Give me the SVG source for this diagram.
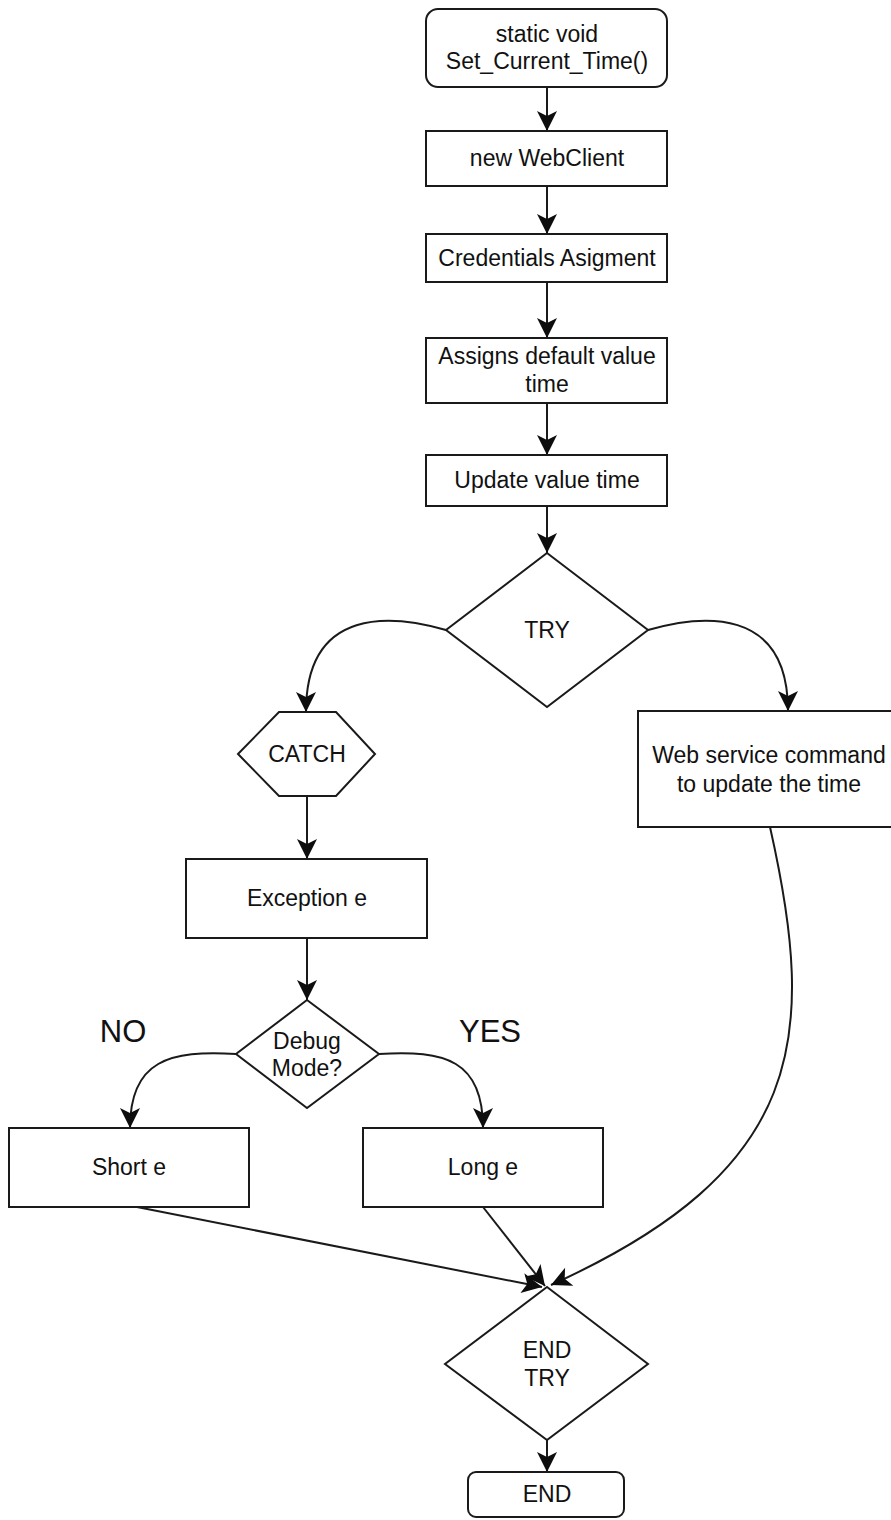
<svg xmlns="http://www.w3.org/2000/svg" width="891" height="1520" viewBox="0 0 891 1520">
  <style>
    .shape { fill: #ffffff; stroke: #1a1a1a; stroke-width: 2; }
    .edge { fill: none; stroke: #1a1a1a; stroke-width: 2; marker-end: url(#arrow); }
    .label { font-family: "Liberation Sans", Arial, sans-serif; font-size: 23px; fill: #111111; text-anchor: middle; }
    .branch { font-family: "Liberation Sans", Arial, sans-serif; font-size: 31px; fill: #111111; text-anchor: middle; }
  </style>
  <defs>
    <marker id="arrow" markerUnits="userSpaceOnUse" viewBox="0 0 22 22" refX="20.5" refY="11" markerWidth="22" markerHeight="22" orient="auto">
      <path d="M20.5,11 L0.5,1 L5.5,11 L0.5,21 Z" fill="#0d0d0d"/>
    </marker>
  </defs>
  <rect width="891" height="1520" fill="#ffffff"/>

  <g id="connectors">
    <path class="edge" d="M547,87 L547,131"/>
    <path class="edge" d="M547,186 L547,234"/>
    <path class="edge" d="M547,282 L547,338"/>
    <path class="edge" d="M547,403 L547,455"/>
    <path class="edge" d="M547,506 L547,553"/>
    <path class="edge" d="M446,630 C394,615 306,605 306,712"/>
    <path class="edge" d="M648,630 C700,615 788,605 788,711"/>
    <path class="edge" d="M307,796 L307,859"/>
    <path class="edge" d="M307,938 L307,1000"/>
    <path class="edge" d="M236,1054 C170,1050 130,1060 130,1128"/>
    <path class="edge" d="M379,1054 C445,1050 483,1060 483,1128"/>
    <path class="edge" d="M137,1207 L542,1287"/>
    <path class="edge" d="M483,1207 L545,1286"/>
    <path class="edge" d="M770,827 C818,1040 805,1170 551,1285"/>
    <path class="edge" d="M547,1440 L547,1472"/>
  </g>

  <g id="start">
    <rect class="shape" x="426" y="9" width="241" height="78" rx="12" ry="12"/>
    <text class="label" x="547" y="42">static void</text>
    <text class="label" x="547" y="69">Set_Current_Time()</text>
  </g>

  <g id="new-webclient">
    <rect class="shape" x="426" y="131" width="241" height="55"/>
    <text class="label" x="547" y="166">new WebClient</text>
  </g>

  <g id="credentials">
    <rect class="shape" x="426" y="234" width="241" height="48"/>
    <text class="label" x="547" y="266">Credentials Asigment</text>
  </g>

  <g id="default-time">
    <rect class="shape" x="426" y="338" width="241" height="65"/>
    <text class="label" x="547" y="364">Assigns default value</text>
    <text class="label" x="547" y="392">time</text>
  </g>

  <g id="update-time">
    <rect class="shape" x="426" y="455" width="241" height="51"/>
    <text class="label" x="547" y="488">Update value time</text>
  </g>

  <g id="try">
    <polygon class="shape" points="547,553 648,630 547,707 446,630"/>
    <text class="label" x="547" y="638">TRY</text>
  </g>

  <g id="catch">
    <polygon class="shape" points="238,754 279,712 336,712 375,754 336,796 279,796"/>
    <text class="label" x="307" y="762">CATCH</text>
  </g>

  <g id="web-service">
    <rect class="shape" x="638" y="711" width="262" height="116"/>
    <text class="label" x="769" y="763">Web service command</text>
    <text class="label" x="769" y="792">to update the time</text>
  </g>

  <g id="exception">
    <rect class="shape" x="186" y="859" width="241" height="79"/>
    <text class="label" x="307" y="906">Exception e</text>
  </g>

  <g id="debug-mode">
    <polygon class="shape" points="307,1000 379,1054 307,1108 236,1054"/>
    <text class="label" x="307" y="1049">Debug</text>
    <text class="label" x="307" y="1076">Mode?</text>
  </g>

  <g id="branch-labels">
    <text class="branch" x="123" y="1042">NO</text>
    <text class="branch" x="490" y="1042">YES</text>
  </g>

  <g id="short-e">
    <rect class="shape" x="9" y="1128" width="240" height="79"/>
    <text class="label" x="129" y="1175">Short e</text>
  </g>

  <g id="long-e">
    <rect class="shape" x="363" y="1128" width="240" height="79"/>
    <text class="label" x="483" y="1175">Long e</text>
  </g>

  <g id="end-try">
    <polygon class="shape" points="547,1287 648,1364 547,1440 445,1364"/>
    <text class="label" x="547" y="1358">END</text>
    <text class="label" x="547" y="1386">TRY</text>
  </g>

  <g id="end">
    <rect class="shape" x="468" y="1472" width="156" height="45" rx="8" ry="8"/>
    <text class="label" x="547" y="1502">END</text>
  </g>
</svg>
